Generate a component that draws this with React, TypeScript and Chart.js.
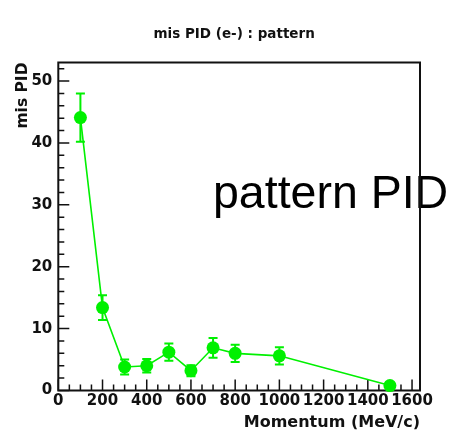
import React, { useEffect, useRef } from 'react';
import { Chart, registerables } from 'chart.js';

Chart.register(...registerables);

// ---- data ----
const momentum = [100, 200, 300, 400, 500, 600, 700, 800, 1000, 1500];
const misPid = [44.1, 13.4, 3.8, 4.0, 6.2, 3.2, 6.9, 6.0, 5.6, 0.8];
const misPidErr = [3.9, 2.0, 1.2, 1.1, 1.4, 0.9, 1.6, 1.4, 1.4, 0.5];

const xTickValues = [0, 200, 400, 600, 800, 1000, 1200, 1400, 1600];
const yTickValues = [0, 10, 20, 30, 40, 50];

const xMin = 0;
const xMax = 1636;
const yMin = 0;
const yMax = 53;
const xTickStep = 200;
const xMinorStep = 50;
const yTickStep = 10;
const yMinorStep = 2;

const chartTitle = 'mis PID (e-) : pattern';
const xTitle = 'Momentum (MeV/c)';
const yTitle = 'mis PID';
const annotationText = 'pattern PID';

const GREEN = '#00f000';
const INK = '#111111';

const rootStyle = {
  id: 'rootStyle',
  afterLayout(chart: any) {
    const tb = chart.titleBlock;
    if (tb) {
      tb.left -= 5;
      tb.right -= 5;
    }
  },
  beforeDatasetsDraw(chart: any) {
    const { ctx, chartArea: a, scales } = chart;
    const xs = scales.x;
    const ys = scales.y;
    ctx.save();

    // annotation text
    ctx.fillStyle = '#000';
    ctx.font = '46.5px "Liberation Sans", Arial, sans-serif';
    ctx.textAlign = 'left';
    ctx.textBaseline = 'alphabetic';
    ctx.fillText(annotationText, 213, 208);

    // inward ticks
    ctx.strokeStyle = INK;
    ctx.lineWidth = 1.5;
    ctx.beginPath();
    for (let v = xMin; v <= xs.max + 1e-9; v += xMinorStep) {
      const px = xs.getPixelForValue(v);
      const len = Math.abs(v % xTickStep) < 1e-9 ? 11 : 6;
      ctx.moveTo(px, a.bottom);
      ctx.lineTo(px, a.bottom - len);
    }
    for (let v = yMin; v <= ys.max + 1e-9; v += yMinorStep) {
      const py = ys.getPixelForValue(v);
      const len = Math.abs(v % yTickStep) < 1e-9 ? 11 : 6;
      ctx.moveTo(a.left, py);
      ctx.lineTo(a.left + len, py);
    }
    ctx.stroke();

    // frame
    ctx.lineWidth = 2;
    ctx.strokeRect(a.left, a.top, a.right - a.left, a.bottom - a.top);

    // error bars
    ctx.strokeStyle = GREEN;
    ctx.lineWidth = 2;
    ctx.beginPath();
    momentum.forEach((m, i) => {
      const px = xs.getPixelForValue(m);
      const pTop = ys.getPixelForValue(misPid[i] + misPidErr[i]);
      const pBot = ys.getPixelForValue(misPid[i] - misPidErr[i]);
      ctx.moveTo(px, pTop);
      ctx.lineTo(px, pBot);
      ctx.moveTo(px - 4.5, pTop);
      ctx.lineTo(px + 4.5, pTop);
      ctx.moveTo(px - 4.5, pBot);
      ctx.lineTo(px + 4.5, pBot);
    });
    ctx.stroke();

    ctx.restore();
  },
};

export default function App() {
  const canvasRef = useRef<HTMLCanvasElement | null>(null);

  useEffect(() => {
    const canvas = canvasRef.current;
    if (!canvas) return;
    Chart.defaults.font.family = '"DejaVu Sans", sans-serif';
    const chart = new Chart(canvas, {
      type: 'scatter',
      data: {
        datasets: [
          {
            label: yTitle,
            data: momentum.map((m, i) => ({ x: m, y: misPid[i] })),
            showLine: true,
            borderColor: GREEN,
            borderWidth: 1.6,
            backgroundColor: GREEN,
            pointBackgroundColor: GREEN,
            pointBorderWidth: 0,
            pointRadius: 6.5,
            pointHoverRadius: 6.5,
            clip: false as any,
          },
        ],
      },
      options: {
        animation: false,
        responsive: false,
        devicePixelRatio: 1,
        layout: { padding: { top: 0, right: 34, bottom: 0, left: 0 } },
        plugins: {
          legend: { display: false },
          tooltip: { enabled: false },
          title: {
            display: true,
            text: chartTitle,
            color: INK,
            fullSize: false,
            font: { family: '"DejaVu Sans", sans-serif', size: 13.5, weight: 'bold', lineHeight: 1.2 },
            padding: { top: 26.4, bottom: 19.9 },
          },
        },
        scales: {
          x: {
            type: 'linear',
            position: 'bottom',
            min: xMin,
            max: xMax,
            grid: { display: false, drawTicks: false },
            border: { display: false },
            afterBuildTicks(scale: any) {
              scale.ticks = xTickValues.map((v) => ({ value: v }));
            },
            ticks: {
              autoSkip: false,
              maxRotation: 0,
              minRotation: 0,
              padding: 1.5,
              color: INK,
              font: { size: 15, weight: 'bold' },
              callback: (v: any) => String(v),
            },
            title: {
              display: true,
              text: xTitle,
              align: 'end',
              color: INK,
              font: { size: 16, weight: 'bold', lineHeight: 1.2 },
              padding: { top: 0, bottom: 0 },
            },
            afterFit(scale: any) {
              scale.height = 41.5;
            },
          },
          y: {
            type: 'linear',
            position: 'left',
            min: yMin,
            max: yMax,
            grid: { display: false, drawTicks: false },
            border: { display: false },
            afterBuildTicks(scale: any) {
              scale.ticks = yTickValues.map((v) => ({ value: v }));
            },
            ticks: {
              autoSkip: false,
              padding: 6,
              color: INK,
              font: { size: 15, weight: 'bold' },
              callback: (v: any) => String(v),
            },
            title: {
              display: true,
              text: yTitle,
              align: 'end',
              color: INK,
              font: { size: 15.5, weight: 'bold', lineHeight: 1.2 },
              padding: { top: 13.5, bottom: 0 },
            },
            afterFit(scale: any) {
              scale.width = 58.3;
            },
          },
        },
      } as any,
      plugins: [rootStyle],
    });
    return () => chart.destroy();
  }, []);

  return (
    <div style={{ position: 'fixed', left: 0, top: 0, width: 454, height: 432, background: '#fff' }}>
      <canvas ref={canvasRef} width={454} height={432} />
    </div>
  );
}
